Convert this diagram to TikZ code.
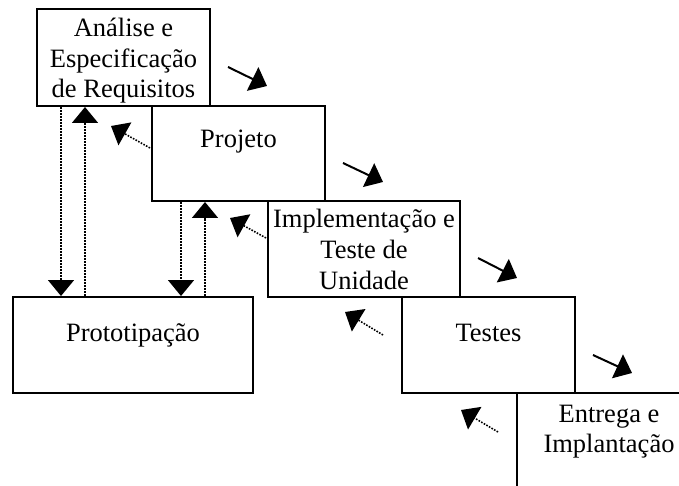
\documentclass[tikz,border=0pt]{standalone}
\usepackage{fontspec}
\setmainfont{Liberation Serif}
\usetikzlibrary{arrows.meta}
\begin{document}
\begin{tikzpicture}[x=1pt,y=-1pt,
  box/.style={draw,line width=2pt,inner sep=0pt},
  lbl/.style={anchor=base,inner sep=0pt,font=\fontsize{26.5}{30.5}\selectfont},
  fwd/.style={line width=2pt,-{Triangle[length=16pt,width=26pt]}},
  bck/.style={line width=1.6pt,dash pattern=on 1.6pt off 1.4pt,-{Triangle[length=16pt,width=26pt]}}]
\useasboundingbox (0,0) rectangle (679,486);
% boxes
\node[box,minimum width=173pt,minimum height=97pt] (req) at (123.5,57.5) {};
\node[box,minimum width=173pt,minimum height=95pt] (proj) at (238.5,153.5) {};
\node[box,minimum width=192pt,minimum height=96pt] (impl) at (364,249) {};
\node[box,minimum width=240pt,minimum height=96pt] (proto) at (133,345) {};
\node[box,minimum width=173pt,minimum height=96pt] (test) at (488.5,345) {};
\coordinate (entA) at (517,486);
\coordinate (entB) at (517,393);
\coordinate (entC) at (679,393);
\draw[line width=2pt] (entA) -- (entB) -- (entC);
% labels
\node[lbl] (treq) at (123.5,37) {\begin{tabular}[t]{@{}c@{}}Análise e\\Especificação\\de Requisitos\end{tabular}};
\node[lbl] (tproj) at (238.5,148) {Projeto};
\node[lbl] (timpl) at (364,228) {\begin{tabular}[t]{@{}c@{}}Implementação e\\Teste de\\Unidade\end{tabular}};
\node[lbl] (tproto) at (133,341) {Prototipação};
\node[lbl] (ttest) at (488.5,341) {Testes};
\node[lbl] (tent) at (609,422) {\begin{tabular}[t]{@{}c@{}}Entrega e\\Implantação\end{tabular}};
% forward arrows
\coordinate (s1a) at (228,67);  \coordinate (s1b) at (267,86);
\coordinate (s2a) at (343,163); \coordinate (s2b) at (383,182);
\coordinate (s3a) at (478,258); \coordinate (s3b) at (517,278);
\coordinate (s4a) at (593,355); \coordinate (s4b) at (632,373);
\draw[fwd] (s1a) -- (s1b);
\draw[fwd] (s2a) -- (s2b);
\draw[fwd] (s3a) -- (s3b);
\draw[fwd] (s4a) -- (s4b);
% backward arrows
\coordinate (d1a) at (150,148); \coordinate (d1b) at (111,126);
\coordinate (d2a) at (266,238); \coordinate (d2b) at (230,218);
\coordinate (d3a) at (383,335); \coordinate (d3b) at (345,312);
\coordinate (d4a) at (498,432); \coordinate (d4b) at (461,410);
\draw[bck] (d1a) -- (d1b);
\draw[bck] (d2a) -- (d2b);
\draw[bck] (d3a) -- (d3b);
\draw[bck] (d4a) -- (d4b);
% prototyping arrows
\draw[bck] (req.south -| 61,0) -- (proto.north -| 61,0);
\draw[bck] (proto.north -| 85,0) -- (req.south -| 85,0);
\draw[bck] (proj.south -| 181,0) -- (proto.north -| 181,0);
\draw[bck] (proto.north -| 205,0) -- (proj.south -| 205,0);
\end{tikzpicture}
\end{document}
